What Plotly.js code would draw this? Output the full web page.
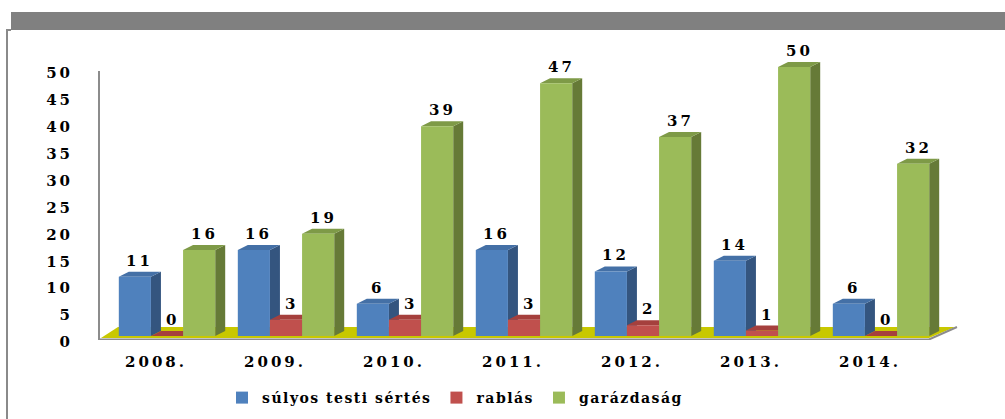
<!DOCTYPE html>
<html><head><meta charset="utf-8">
<script src="https://cdn.plot.ly/plotly-3.0.1.min.js"></script>
<style>
html,body{margin:0;padding:0;background:#fff;}
#chart{width:1005px;height:419px;}
.xtick text,.ytick text,.annotation-text{letter-spacing:3px;}
.legendtext{letter-spacing:1.5px;}
</style></head><body><div id="chart"></div>
<script>
// ---- data ----
const categories = ['2008.','2009.','2010.','2011.','2012.','2013.','2014.'];
const seriesNames = ['súlyos testi sértés','rablás','garázdaság'];
const sulyosTestiSertes = [11,16,6,16,12,14,6];
const rablas = [0,3,3,3,2,1,0];
const garazdasag = [16,19,39,47,37,50,32];
const yTickVals = [0,5,10,15,20,25,30,35,40,45,50];

// ---- style / layout constants ----
const W=1005,H=419;
const M={l:99,r:47,t:36,b:79,autoexpand:false};
const plotW=W-M.l-M.r, plotH=H-M.t-M.b;
const PX_PER_CAT=119, X0PX=167, PX_PER_UNIT=5.38, Y0PX=336;
const xRange=[(M.l-X0PX)/PX_PER_CAT,(W-M.r-X0PX)/PX_PER_CAT];
const yRange=[(Y0PX-(H-M.b))/PX_PER_UNIT,(Y0PX-M.t)/PX_PER_UNIT];
const DX=10/PX_PER_CAT, DY=5/PX_PER_UNIT;
const BW=0.27;
const offsets=[-0.405,-0.135,0.135];
const frontCol=['#4F81BD','#C0504D','#9BBB59'];
const sideCol=['#34557F','#8B3A38','#667A37'];
const topCol=['#4470A6','#A5403D','#7E9A47'];
const FONT='"DejaVu Serif", "Liberation Serif", serif';
const px2paperX=px=>(px-M.l)/plotW;
const px2paperY=py=>(H-M.b-py)/plotH;
const dx2x=px=>(px-X0PX)/PX_PER_CAT;
const py2y=py=>(Y0PX-py)/PX_PER_UNIT;

const series=[sulyosTestiSertes,rablas,garazdasag];
const xIdx=categories.map((c,i)=>i);

const shapes=[];
// frame + banner
shapes.push({type:'rect',xref:'paper',yref:'paper',x0:px2paperX(11),x1:px2paperX(1006),y0:px2paperY(30),y1:px2paperY(12),fillcolor:'#808080',line:{width:0},layer:'above'});
shapes.push({type:'path',xref:'paper',yref:'paper',path:`M${px2paperX(7)},${px2paperY(420)} L${px2paperX(7)},${px2paperY(30)} L${px2paperX(11)},${px2paperY(30)}`,line:{color:'#8a8a8a',width:2},layer:'above'});
// floor
shapes.push({type:'path',xref:'x',yref:'y',layer:'below',fillcolor:'#C8C800',line:{width:0},
  path:`M${dx2x(101)},${py2y(338)} L${dx2x(929)},${py2y(338)} L${dx2x(955)},${py2y(327)} L${dx2x(118)},${py2y(327)} Z`});
// floor edge / x axis line
shapes.push({type:'path',xref:'x',yref:'y',layer:'below',line:{color:'#8c8c8c',width:2},
  path:`M${xRange[0]},${py2y(339.5)} L${dx2x(929)},${py2y(339.5)} L${dx2x(957)},${py2y(327)}`});
// y axis line
shapes.push({type:'line',xref:'paper',yref:'y',x0:0,x1:0,y0:py2y(340),y1:py2y(71),line:{color:'#8c8c8c',width:2},layer:'below'});

// 3D faces of bars
series.forEach((vals,s)=>{
  vals.forEach((v,i)=>{
    const L=i+offsets[s], R=L+BW;
    shapes.push({type:'path',xref:'x',yref:'y',layer:'below',fillcolor:sideCol[s],line:{width:0},
      path:`M${R},0 L${R+DX},${DY} L${R+DX},${v+DY} L${R},${v} Z`});
    shapes.push({type:'path',xref:'x',yref:'y',layer:'below',fillcolor:topCol[s],line:{width:0},
      path:`M${L},${v} L${L+DX},${v+DY} L${R+DX},${v+DY} L${R},${v} Z`});
  });
});

const traces=[];
series.forEach((vals,s)=>{
  traces.push({type:'bar',name:seriesNames[s],x:xIdx,y:vals,width:BW,offset:offsets[s],
    marker:{color:frontCol[s],line:{width:0}},hoverinfo:'y'});
});

// value labels
const annotations=[];
series.forEach((vals,s)=>{
  vals.forEach((v,i)=>{
    annotations.push({x:i+offsets[s]+BW/2+DX*0.5,y:v+DY,xref:'x',yref:'y',text:String(v),showarrow:false,
      xanchor:'center',yanchor:'bottom',yshift:0,font:{family:FONT,size:15,color:'#000',weight:'bold'}});
  });
});

const layout={
  width:W,height:H,margin:M,paper_bgcolor:'#fff',plot_bgcolor:'#fff',
  barmode:'overlay',showlegend:true,
  xaxis:{range:xRange,tickvals:xIdx,ticktext:categories,showgrid:false,zeroline:false,showline:false,
    ticks:'outside',ticklen:8,tickcolor:'rgba(0,0,0,0)',ticklabelshift:-11,
    tickfont:{family:FONT,size:15,color:'#000',weight:'bold'},fixedrange:true,automargin:false},
  yaxis:{range:yRange,tickvals:yTickVals,showgrid:false,zeroline:false,showline:false,
    ticks:'outside',ticklen:22,tickcolor:'rgba(0,0,0,0)',ticklabelshift:6,
    tickfont:{family:FONT,size:15,color:'#000',weight:'bold'},fixedrange:true,automargin:false},
  legend:{orientation:'h',x:px2paperX(222),xanchor:'left',y:px2paperY(398),yanchor:'middle',
    font:{family:FONT,size:14,color:'#000',weight:'bold'},bgcolor:'rgba(0,0,0,0)'},
  shapes:shapes,annotations:annotations
};
Plotly.newPlot('chart',traces,layout,{displayModeBar:false,staticPlot:true});
</script></body></html>
